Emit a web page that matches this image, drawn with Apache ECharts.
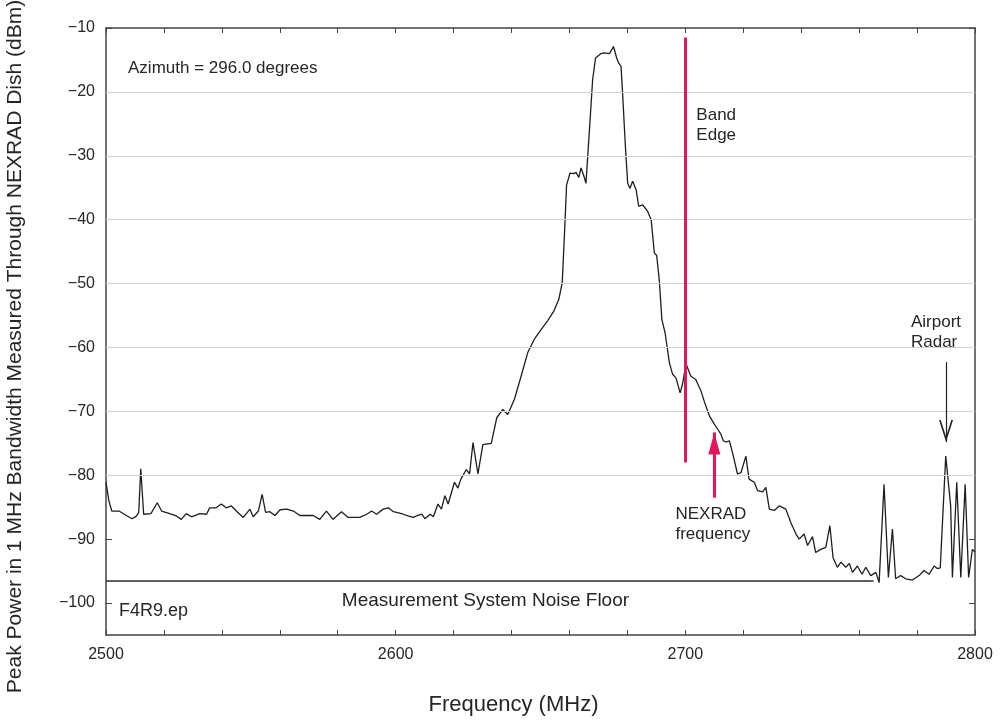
<!DOCTYPE html>
<html>
<head>
<meta charset="utf-8">
<script src="https://cdn.jsdelivr.net/npm/echarts@6/dist/echarts.min.js"></script>
<style>
  html, body { margin: 0; padding: 0; background: #ffffff; }
  #chart { width: 1000px; height: 725px; }
</style>
</head>
<body>
<div id="chart"></div>
<script>
// Spectrum sweep: frequency (MHz) and peak power (dBm)
const freqMHz = [
  2500, 2501, 2502, 2504.5, 2507, 2509, 2510.5, 2511.3, 2512, 2513,
  2515.5, 2517.7, 2519.2, 2522, 2524, 2526, 2527.7, 2529.5, 2532.4, 2534.7,
  2535.8, 2538, 2539.8, 2541.5, 2543.3, 2545, 2547.4, 2549.7, 2550.8, 2552.6,
  2553.9, 2555.1, 2556.6, 2558.3, 2560.1, 2562.4, 2564.7, 2566.9, 2569, 2571.5,
  2573.8, 2576.1, 2578.4, 2581.3, 2583.6, 2585.5, 2587.6, 2590, 2591.7, 2593.4,
  2595.7, 2597.5, 2599.2, 2601, 2602.6, 2604.5, 2606.1, 2607.5, 2609, 2610.1,
  2611.9, 2613, 2614.6, 2615.8, 2617, 2618.1, 2620.3, 2621.5, 2622.5, 2624.4,
  2625.5, 2626.7, 2628.4, 2630.1, 2633, 2634.9, 2637, 2638.7, 2641, 2643.3,
  2645.6, 2648, 2650.2, 2652.5, 2654.5, 2656.3, 2657.5, 2658.3, 2659, 2660.2,
  2661.5, 2662.3, 2663.2, 2664, 2665, 2665.7, 2666.9, 2668, 2669, 2670.9,
  2672, 2672.6, 2673.8, 2675.2, 2676.3, 2677, 2677.8, 2678.4, 2679.3, 2680.1,
  2680.9, 2681.8, 2683, 2683.9, 2685.3, 2687, 2688.2, 2689.3, 2690.1, 2691,
  2691.9, 2693, 2694.5, 2695.6, 2696.8, 2698.2, 2699.1, 2700.2, 2701.9, 2703.6,
  2705.4, 2706.5, 2708.3, 2710, 2711.2, 2712.3, 2713.1, 2714, 2715.2, 2716.3,
  2718, 2719.2, 2720.9, 2722, 2723.8, 2724.9, 2726.7, 2727.8, 2729, 2730.7,
  2732.4, 2734.7, 2736.4, 2738.2, 2739.3, 2741, 2742.2, 2743.9, 2745, 2746.7,
  2748.5, 2749.9, 2751, 2752.5, 2753.7, 2755.4, 2756.6, 2757.7, 2759.4, 2761,
  2762.3, 2764, 2765.8, 2766.9, 2768.6, 2770.1, 2771.5, 2772.6, 2774.3, 2776.1,
  2778.4, 2780.7, 2782.4, 2784.1, 2785.9, 2787, 2788, 2789.9, 2791.6, 2792.2,
  2793.7, 2795.1, 2796.6, 2797.8, 2799.1, 2800
];
const powerDbm = [
  -81.1, -84.0, -85.6, -85.6, -86.3, -86.8, -86.4, -85.8, -79.0, -86.1,
  -86.0, -84.3, -85.6, -86.0, -86.3, -86.9, -86.0, -86.5, -86.0, -86.1,
  -85.1, -85.1, -84.5, -85.1, -84.8, -85.6, -86.6, -85.3, -86.5, -85.6,
  -83.0, -85.8, -85.7, -86.3, -85.4, -85.3, -85.6, -86.3, -86.3, -86.3,
  -86.9, -85.6, -86.9, -85.7, -86.6, -86.6, -86.6, -86.1, -85.6, -86.1,
  -85.3, -85.1, -85.7, -85.9, -86.1, -86.4, -86.6, -86.3, -86.1, -86.8,
  -86.1, -86.5, -84.5, -85.3, -83.2, -84.5, -81.1, -82.0, -80.6, -79.1,
  -79.8, -74.9, -79.8, -75.2, -75.0, -71.0, -69.7, -70.5, -68.1, -64.5,
  -60.8, -58.6, -57.2, -55.8, -54.4, -52.5, -49.9, -42.0, -34.6, -32.7,
  -32.8, -32.6, -33.4, -31.9, -33.2, -34.3, -25.9, -18.1, -14.7, -14.0,
  -13.9, -13.7, -14.0, -12.9, -14.7, -15.5, -16.0, -20.7, -28.5, -34.3,
  -35.1, -34.0, -35.3, -37.9, -37.7, -38.7, -40.0, -45.2, -45.6, -49.4,
  -55.6, -57.7, -62.4, -64.2, -64.8, -67.1, -65.6, -62.5, -64.5, -65.0,
  -66.8, -68.4, -70.7, -72.0, -72.8, -73.6, -74.6, -74.8, -74.6, -76.5,
  -79.8, -79.6, -77.0, -80.6, -81.1, -82.4, -82.6, -81.9, -85.3, -85.5,
  -84.8, -85.3, -87.4, -89.2, -90.0, -89.2, -91.0, -89.6, -92.1, -91.6,
  -91.3, -87.9, -92.9, -94.4, -93.6, -94.4, -93.8, -95.2, -94.2, -95.5,
  -94.4, -95.7, -95.2, -96.8, -81.4, -96.0, -88.4, -96.2, -95.7, -96.2,
  -96.4, -95.7, -94.9, -95.5, -94.2, -94.6, -94.5, -77.0, -84.8, -96.0,
  -81.1, -96.0, -81.4, -96.0, -91.6, -92.0
];

// Axis ticks and reference levels
const yTickValues = [-100, -90, -80, -70, -60, -50, -40, -30, -20, -10];
const xTickLabels = [2500, 2600, 2700, 2800];
const gridLevels = [-80, -70, -60, -50, -40, -30, -20];
const noiseFloorDbm = -96.5;
const noiseFloorEndMHz = 2765;
const bandEdgeMHz = 2700;
const bandEdgeSpanDbm = [-11.5, -78];
const nexradMHz = 2710;
const nexradArrowDbm = [-83.5, -73.3];
const airportRadarMHz = 2790;
const airportArrowDbm = [-62.3, -74.8];

const FONT = '"Liberation Sans", Arial, Helvetica, sans-serif';
const INK = '#262626';
const FRAME = '#444444';
const RED = '#e3165b';

const traceData = freqMHz.map((f, i) => [f, powerDbm[i]]);

// Open "V" arrow head, tip at the top of its box
const chevron = 'path://M7,0 L14,22 L12.3,22 L7,5.5 L1.7,22 L0,22 Z';

function note(name, coord, align, size) {
  return {
    name: name,
    coord: coord,
    label: { align: align || 'left', fontSize: size || 17 }
  };
}

const chart = echarts.init(document.getElementById('chart'), null, { renderer: 'canvas' });

chart.setOption({
  animation: false,
  backgroundColor: '#ffffff',
  grid: { left: 106, right: 25, top: 28, bottom: 90, show: false, containLabel: false, outerBoundsMode: 'none' },
  xAxis: [
    {
      type: 'value', min: 2500, max: 2800, interval: 20,
      position: 'bottom',
      name: 'Frequency (MHz)', nameLocation: 'middle', nameGap: 59,
      nameTextStyle: { fontFamily: FONT, fontSize: 22, color: INK, padding: [0, 54, 0, 0] },
      axisLine: { show: true, lineStyle: { color: FRAME, width: 1.5 } },
      axisTick: { show: true, inside: true, length: 5, lineStyle: { color: FRAME, width: 1 } },
      axisLabel: {
        fontFamily: FONT, fontSize: 16, color: INK, margin: 12,
        formatter: v => (xTickLabels.indexOf(v) >= 0 ? String(v) : '')
      },
      splitLine: { show: false }
    },
    {
      type: 'value', min: 2500, max: 2800, interval: 20,
      position: 'top',
      axisLine: { show: true, lineStyle: { color: FRAME, width: 1.5 } },
      axisTick: { show: true, inside: true, length: 5, lineStyle: { color: FRAME, width: 1 } },
      axisLabel: { show: false },
      splitLine: { show: false }
    }
  ],
  yAxis: [
    {
      type: 'value', min: -105, max: -10,
      position: 'left',
      name: 'Peak Power in 1 MHz Bandwidth Measured Through NEXRAD Dish (dBm)',
      nameLocation: 'middle', nameRotate: 90, nameGap: 80,
      nameTextStyle: { fontFamily: FONT, fontSize: 21, color: INK, padding: [0, 30, 0, 0] },
      axisLine: { show: true, lineStyle: { color: FRAME, width: 1.5 } },
      axisTick: { show: true, inside: true, length: 6, customValues: yTickValues, lineStyle: { color: FRAME, width: 1 } },
      axisLabel: {
        fontFamily: FONT, fontSize: 16, color: INK, margin: 11, customValues: yTickValues,
        formatter: v => String(v).replace('-', '\u2212')
      },
      splitLine: { show: false }
    },
    {
      type: 'value', min: -105, max: -10,
      position: 'right',
      axisLine: { show: true, lineStyle: { color: FRAME, width: 1.5 } },
      axisTick: { show: true, inside: true, length: 6, customValues: yTickValues, lineStyle: { color: FRAME, width: 1 } },
      axisLabel: { show: false, customValues: yTickValues },
      splitLine: { show: false }
    }
  ],
  series: [
    {
      // horizontal reference grid
      type: 'line', data: [], silent: true, z: 1,
      markLine: {
        silent: true, symbol: 'none', animation: false,
        label: { show: false },
        lineStyle: { color: '#d0d0d0', width: 1, type: 'solid' },
        data: gridLevels.map(v => ({ yAxis: v }))
      }
    },
    {
      // measured trace
      type: 'line', data: traceData, z: 3,
      showSymbol: false, symbol: 'none',
      lineStyle: { color: '#1e1e1e', width: 1.3 },
      markPoint: {
        silent: true, symbol: 'circle', symbolSize: 0,
        label: {
          show: true, position: [0, 0], formatter: '{b}',
          fontFamily: FONT, color: INK, verticalAlign: 'middle', lineHeight: 20
        },
        data: [
          note('Azimuth = 296.0 degrees', [2507.6, -16.25]),
          note('Band\nEdge', [2703.8, -25.3]),
          note('NEXRAD\nfrequency', [2696.6, -87.75]),
          note('Airport\nRadar', [2777.9, -57.6]),
          note('F4R9.ep', [2504.5, -101.2], 'left', 18),
          note('Measurement System Noise Floor', [2631, -99.7], 'center', 19)
        ]
      }
    },
    {
      // noise floor, band edge and pointer arrows
      type: 'line', data: [], silent: true, z: 4,
      markLine: {
        silent: true, animation: false,
        label: { show: false },
        lineStyle: { type: 'solid' },
        data: [
          [
            { coord: [2500, noiseFloorDbm], symbol: 'none', lineStyle: { color: '#2a2a2a', width: 1.5, type: 'solid' } },
            { coord: [noiseFloorEndMHz, noiseFloorDbm], symbol: 'none' }
          ],
          [
            { coord: [bandEdgeMHz, bandEdgeSpanDbm[0]], symbol: 'none', lineStyle: { color: RED, width: 3, type: 'solid' } },
            { coord: [bandEdgeMHz, bandEdgeSpanDbm[1]], symbol: 'none' }
          ],
          [
            { coord: [nexradMHz, nexradArrowDbm[0]], symbol: 'none', lineStyle: { color: RED, width: 3, type: 'solid' } },
            { coord: [nexradMHz, nexradArrowDbm[1]], symbol: 'triangle', symbolSize: [12, 22], symbolOffset: [0, 11] }
          ],
          [
            { coord: [airportRadarMHz, airportArrowDbm[0]], symbol: 'none', lineStyle: { color: '#222222', width: 1.2, type: 'solid' } },
            { coord: [airportRadarMHz, airportArrowDbm[1]], symbol: chevron, symbolSize: [14, 22], symbolOffset: [0, 11] }
          ]
        ]
      }
    }
  ]
});
</script>
</body>
</html>
